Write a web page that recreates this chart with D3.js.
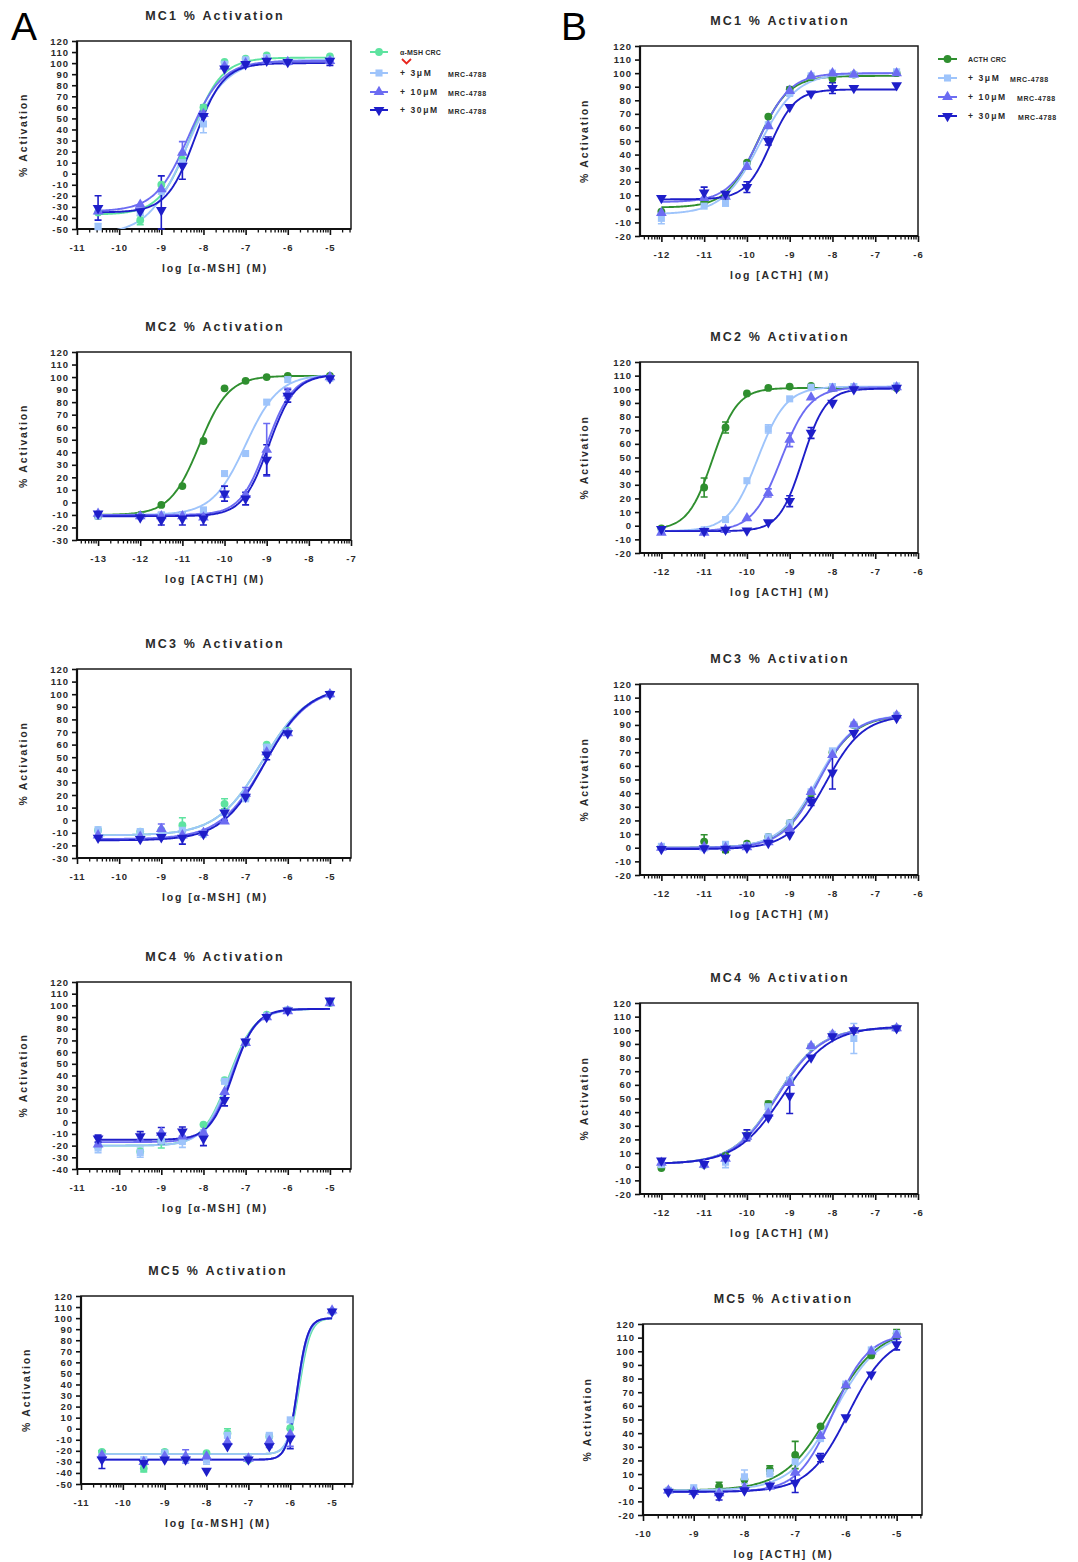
<!DOCTYPE html>
<html><head><meta charset="utf-8">
<script src="https://cdn.jsdelivr.net/npm/d3@7"></script>
<style>body{margin:0;background:#fff} svg{display:block}</style>
</head><body>
<svg id="c" width="1078" height="1562"></svg>
<script>
// ---------- DATA ----------
const titles = ['MC1 % Activation','MC2 % Activation','MC3 % Activation','MC4 % Activation','MC5 % Activation'];
const xLabelMSH = 'log [\u03B1-MSH] (M)';
const xLabelACTH = 'log [ACTH] (M)';
const legendA = ['\u03B1-MSH CRC', '+ 3\u03BCM', '+ 10\u03BCM', '+ 30\u03BCM'];
const legendB = ['ACTH CRC', '+ 3\u03BCM', '+ 10\u03BCM', '+ 30\u03BCM'];
const legendSuffix = 'MRC-4788';

// log concentrations
const xMshA = [-10.5,-9.5,-9,-8.5,-8,-7.5,-7,-6.5,-6,-5];
const xActhA2 = [-13,-12,-11.5,-11,-10.5,-10,-9.5,-9,-8.5,-7.5];
const xActhB = [-12,-11,-10.5,-10,-9.5,-9,-8.5,-8,-7.5,-6.5];
const xActhB5 = [-9.5,-9,-8.5,-8,-7.5,-7,-6.5,-6,-5.5,-5];

// A MC1
const a1Crc  = [-35,-42,-10,13,60,101,104,107,102,106];
const a1M3   = [-48,-35,-16,10,45,99,103,105,101,103];
const a1M10  = [-34,-28,-14,19,54,97,100,102,101,102];
const a1M30  = [-31,-34,-33,7,52,95,99,102,101,102];
const a1Fit  = [[-37,105,-8.3,1.2],[-55,103,-8.4,0.95],[-34,102,-8.35,1.1],[-35,100,-8.2,1.3]];
const a1Err  = [[3,0,11],[3,2,31],[3,3,12],[1,4,8],[2,3,10],[0,1,4],[1,0,3],[3,9,4],[2,4,8]];
// A MC2
const a2Crc  = [-11,-10,-2,13,49,91,97,100,101,101];
const a2M3   = [-11,-11,-10,-10,-6,23,39,80,98,99];
const a2M10  = [-9,-11,-11,-11,-12,6,6,42,87,100];
const a2M30  = [-9,-12,-14,-13,-13,7,3,34,85,99];
const a2Fit  = [[-10,101,-10.6,1.25],[-10,102,-9.5,1.1],[-10,102,-9.0,1.4],[-11,102,-8.95,1.4]];
const a2Err  = [[2,7,21],[3,7,12],[3,5,6],[3,6,5],[3,3,5],[3,4,5],[3,2,4],[3,8,5],[2,8,4],[2,2,3]];
// A MC3
const a3Crc  = [-8,-9,-8,-4,-11,13,18,60,71,100];
const a3M3   = [-7.5,-9,-10,-8,-11,6,17,58,70,100];
const a3M10  = [-12,-13,-7,-12,-10,-1,21,54,69,100];
const a3M30  = [-14,-15,-13.5,-14,-11,6,18.5,52,69,100];
const a3Fit  = [[-12,106,-6.6,0.8],[-12,106,-6.6,0.8],[-15,106,-6.55,0.82],[-16,106,-6.55,0.85]];
const a3Err  = [[0,3,6],[0,5,4],[2,2,4],[3,3,5],[3,7,4],[3,5,6],[2,6,5]];
// A MC4
const a4Crc  = [-21,-25,-16,-15,-2,36,68,92,96,102];
const a4M3   = [-22,-26,-16,-16.5,-9,35,69,91,96,102.5];
const a4M10  = [-19,-15,-9,-12,-9,26,68,90,95,102];
const a4M30  = [-14,-12,-11.5,-8,-14,19,69,90,95.5,104];
const a4Fit  = [[-20,97,-7.4,1.4],[-20,97,-7.38,1.4],[-17,97,-7.33,1.5],[-15,97,-7.3,1.6]];
const a4Err  = [[3,2,7],[0,2,6],[1,0,4],[1,1,4],[3,4,6],[3,3,4],[1,3,5],[3,5,5],[3,0,3],[3,1,4]];
// A MC5
const a5Crc  = [-21,-36,-21,-27,-22,-4,-28,-7,0.5,106];
const a5M3   = [-25,-28,-22,-28,-28,-6,-27,-6,8,106];
const a5M10  = [-24,-30,-25,-25,-25,-12,-27,-11,-5,107];
const a5M30  = [-28,-31,-28,-28,-38,-16,-28,-16,-9,106];
const a5Fit  = [[-23,100,-5.78,3.3],[-23,100,-5.8,3.4],[-28,100,-5.83,3.5],[-28,100,-5.83,3.5]];
const a5Err  = [[3,0,8],[1,2,3],[2,3,6],[1,4,4],[0,5,4],[2,7,6],[3,8,9],[2,8,11],[0,1,3]];
// B MC1
const b1Crc  = [-2,5,9,34,68,88,97,96,99,100];
const b1M3   = [-7,2,4,32,62,85,98,100,99,101];
const b1M10  = [-3,8,9,31,61,87,98,100,99,100];
const b1M30  = [8,12,11,16,50,75,85,89,89,91];
const b1Fit  = [[1,98,-9.75,1.2],[-4,100,-9.7,1.0],[5,100,-9.7,1.2],[7,88,-9.45,1.5]];
const b1Err  = [[3,7,4],[3,1,4],[3,4,3],[3,3,4],[1,0,4],[2,5,3]];
// B MC2
const b2Crc  = [-2,28,72,97,101,102,102.5,101,101,101];
const b2M3   = [-4,-3,4.5,33,71,93,101.5,102,102,102.5];
const b2M10  = [-5,-5,-3,5.5,24,63,94,100.5,101,101.5];
const b2M30  = [-2.5,-4,-3,-3.5,2.5,18,68,90,100,101];
const b2Fit  = [[-3,101,-10.8,1.5],[-4,102,-9.75,1.3],[-4,101.5,-9.2,1.3],[-4,100.5,-8.7,1.6]];
const b2Err  = [[0,1,7],[0,2,4],[2,5,5],[2,4,3],[3,5,4],[3,6,4],[1,4,3]];
// B MC3
const b3Crc  = [0.5,4.5,-1.5,3,8,18,40,70,90,97];
const b3M3   = [1,-0.2,2.5,1.5,8,18,41,71,90,97];
const b3M10  = [0,0.5,0,0.5,4,14,41,68,90.5,97];
const b3M30  = [-1,-0.5,-0.8,0,3.5,9.5,34,55,84,95];
const b3Fit  = [[0,97,-8.35,1.0],[0,97.5,-8.37,1.0],[0,97,-8.33,1.05],[-1,97,-8.15,1.0]];
const b3Err  = [[0,1,5],[3,7,12],[0,2,2],[3,6,3]];
// B MC4
const b4Crc  = [-1,1.5,8,23,46,62,88,97,100,101.5];
const b4M3   = [1.5,1.5,3.3,22,44,63.5,88,97,94,101.5];
const b4M10  = [3,1.5,6,22,39,61.5,88.5,97,100,101.5];
const b4M30  = [4.5,2,6.5,23,36,52,80,95.5,100,101.5];
const b4Fit  = [[2,102,-9.3,0.85],[2,102,-9.3,0.85],[2,102,-9.28,0.85],[2,103,-9.15,0.8]];
const b4Err  = [[3,5,13],[1,8,11],[1,2,4],[2,4,3],[0,4,2],[3,3,4]];
// B MC5
const b5Crc  = [-2,-1.5,1,6,13,24,45,75,97,113];
const b5M3   = [-2,0,-3,8,11,19,36,76,101,113];
const b5M10  = [-2,-3,-4,0,1,11,38,75,100,112];
const b5M30  = [-3,-4,-6,-2,1.5,3.5,22,51.5,83,105];
const b5Fit  = [[-2,117,-6.28,0.93],[-2,115,-6.22,1.0],[-3,113,-6.25,1.25],[-3,112,-5.95,1.1]];
const b5Err  = [[0,5,10],[1,3,5],[3,5,7],[0,2,3],[3,2,3],[1,4,3],[0,4,3],[3,9,4],[0,9,3],[3,6,3]];

// ---------- STYLE / LAYOUT ----------
const FONT = "'Liberation Sans', Arial, sans-serif";
const mint = '#5ee3a0', darkGreen = '#2f8f2f';
const blues = ['#9ec4fb', '#6c6cf2', '#1e1ec9'];
const TXT = '#2a2a2a';

const panels = [
  {id:'a1', title:titles[0], xlab:xLabelMSH,  box:[77,41,351,229],   xd:[-11,-4.5], yd:[-50,120], xs:xMshA,   vals:[a1Crc,a1M3,a1M10,a1M30], fits:a1Fit, errs:a1Err, green:mint, ylx:23},
  {id:'a2', title:titles[1], xlab:xLabelACTH, box:[77,352,351,540],  xd:[-13.5,-7], yd:[-30,120], xs:xActhA2, vals:[a2Crc,a2M3,a2M10,a2M30], fits:a2Fit, errs:a2Err, green:darkGreen, ylx:23},
  {id:'a3', title:titles[2], xlab:xLabelMSH,  box:[77,669,351,858],  xd:[-11,-4.5], yd:[-30,120], xs:xMshA,   vals:[a3Crc,a3M3,a3M10,a3M30], fits:a3Fit, errs:a3Err, green:mint, ylx:23},
  {id:'a4', title:titles[3], xlab:xLabelMSH,  box:[77,982,351,1169], xd:[-11,-4.5], yd:[-40,120], xs:xMshA,   vals:[a4Crc,a4M3,a4M10,a4M30], fits:a4Fit, errs:a4Err, green:mint, ylx:23},
  {id:'a5', title:titles[4], xlab:xLabelMSH,  box:[81,1296,353,1484],xd:[-11,-4.5], yd:[-50,120], xs:xMshA,   vals:[a5Crc,a5M3,a5M10,a5M30], fits:a5Fit, errs:a5Err, green:mint, ylx:26},
  {id:'b1', title:titles[0], xlab:xLabelACTH, box:[640,46,918,236],  xd:[-12.5,-6], yd:[-20,120], xs:xActhB,  vals:[b1Crc,b1M3,b1M10,b1M30], fits:b1Fit, errs:b1Err, green:darkGreen, ylx:584},
  {id:'b2', title:titles[1], xlab:xLabelACTH, box:[640,362,918,553], xd:[-12.5,-6], yd:[-20,120], xs:xActhB,  vals:[b2Crc,b2M3,b2M10,b2M30], fits:b2Fit, errs:b2Err, green:darkGreen, ylx:584},
  {id:'b3', title:titles[2], xlab:xLabelACTH, box:[640,684,918,875], xd:[-12.5,-6], yd:[-20,120], xs:xActhB,  vals:[b3Crc,b3M3,b3M10,b3M30], fits:b3Fit, errs:b3Err, green:darkGreen, ylx:584},
  {id:'b4', title:titles[3], xlab:xLabelACTH, box:[640,1003,918,1194],xd:[-12.5,-6],yd:[-20,120], xs:xActhB,  vals:[b4Crc,b4M3,b4M10,b4M30], fits:b4Fit, errs:b4Err, green:darkGreen, ylx:584},
  {id:'b5', title:titles[4], xlab:xLabelACTH, box:[643,1324,922,1515],xd:[-10,-4.5], yd:[-20,120], xs:xActhB5, vals:[b5Crc,b5M3,b5M10,b5M30], fits:b5Fit, errs:b5Err, green:darkGreen, ylx:587},
];

const svg = d3.select('#c');
const defs = svg.append('defs');

const symTypes = [d3.symbolCircle, d3.symbolSquare, d3.symbolTriangle, d3.symbolTriangle];
const symSizes = [48, 50, 50, 50];
function marker(g, i, cx, cy, color) {
  g.append('path')
    .attr('d', d3.symbol().type(symTypes[i]).size(symSizes[i])())
    .attr('transform', `translate(${cx},${cy})` + (i === 3 ? ' rotate(180)' : ''))
    .attr('fill', color);
}
function logistic(f, xv) {
  const [bot, top, ec, h] = f;
  return bot + (top - bot) / (1 + Math.pow(10, (ec - xv) * h));
}

panels.forEach(p => {
  const [L, T, R, B] = p.box;
  const x = d3.scaleLinear().domain(p.xd).range([L, R]);
  const y = d3.scaleLinear().domain(p.yd).range([B, T]);
  const colors = [p.green, ...blues];
  const g = svg.append('g');

  defs.append('clipPath').attr('id', 'clip-' + p.id)
    .append('rect').attr('x', L).attr('y', T).attr('width', R - L).attr('height', B - T);

  // title
  g.append('text').attr('x', (L + R) / 2 + 1).attr('y', T - 21.5)
    .attr('text-anchor', 'middle').attr('font-family', FONT).attr('font-size', 12.5)
    .attr('font-weight', 'bold').attr('letter-spacing', 2.2).attr('fill', TXT).text(p.title);
  // x label
  g.append('text').attr('x', (L + R) / 2 + 1).attr('y', B + 43)
    .attr('text-anchor', 'middle').attr('font-family', FONT).attr('font-size', 10.5)
    .attr('font-weight', 'bold').attr('letter-spacing', 1.9).attr('fill', TXT).text(p.xlab);
  // y label
  g.append('text').attr('transform', `translate(${p.ylx + 4},${(T + B) / 2}) rotate(-90)`)
    .attr('text-anchor', 'middle').attr('font-family', FONT).attr('font-size', 10.5)
    .attr('font-weight', 'bold').attr('letter-spacing', 1.8).attr('fill', TXT).text('% Activation');

  // y axis
  const yTicks = d3.range(p.yd[0], p.yd[1] + 0.1, 10);
  const ya = g.append('g').attr('transform', `translate(${L},0)`)
    .call(d3.axisLeft(y).tickValues(yTicks).tickSize(5).tickPadding(3).tickSizeOuter(0).tickFormat(d => String(d)));
  ya.select('.domain').remove();
  ya.selectAll('line').attr('stroke', '#111').attr('stroke-width', 1.6);
  ya.selectAll('text').attr('font-family', FONT).attr('font-size', 9.5).attr('font-weight', 'bold')
    .attr('letter-spacing', 1).attr('fill', TXT);

  // x axis major
  const xMaj = d3.range(Math.ceil(p.xd[0]), Math.floor(p.xd[1]) + 0.1, 1);
  const xa = g.append('g').attr('transform', `translate(0,${B})`)
    .call(d3.axisBottom(x).tickValues(xMaj).tickSize(6).tickPadding(9).tickSizeOuter(0).tickFormat(d => String(d)));
  xa.select('.domain').remove();
  xa.selectAll('line').attr('stroke', '#111').attr('stroke-width', 1.6);
  xa.selectAll('text').attr('font-family', FONT).attr('font-size', 9.5).attr('font-weight', 'bold')
    .attr('letter-spacing', 1).attr('fill', TXT);
  // minor log ticks
  const minors = [];
  for (let k = Math.floor(p.xd[0]); k < p.xd[1]; k++) {
    for (let m = 2; m <= 9; m++) {
      const v = k + Math.log10(m);
      if (v > p.xd[0] && v < p.xd[1]) minors.push(v);
    }
  }
  g.append('g').selectAll('line').data(minors).join('line')
    .attr('x1', d => x(d)).attr('x2', d => x(d)).attr('y1', B).attr('y2', B + 3.5)
    .attr('stroke', '#111').attr('stroke-width', 1.3);

  // frame
  g.append('rect').attr('x', L).attr('y', T).attr('width', R - L).attr('height', B - T)
    .attr('fill', 'none').attr('stroke', '#1a1a1a').attr('stroke-width', 1.5);
  g.append('path').attr('d', `M${L},${T}V${B}H${R}`).attr('fill', 'none')
    .attr('stroke', '#111').attr('stroke-width', 2.2);

  // curves
  const cg = g.append('g').attr('clip-path', `url(#clip-${p.id})`);
  const x0 = p.xs[0], x1 = p.xs[p.xs.length - 1];
  const samples = d3.range(0, 201).map(i => x0 + (x1 - x0) * i / 200);
  const line = d3.line().x(d => x(d[0])).y(d => y(d[1]));
  p.fits.forEach((f, si) => {
    cg.append('path').attr('d', line(samples.map(s => [s, logistic(f, s)])))
      .attr('fill', 'none').attr('stroke', colors[si]).attr('stroke-width', 1.9);
  });

  // error bars
  const eg = g.append('g');
  p.errs.forEach(([si, pi, e]) => {
    const cx = x(p.xs[pi]), v = p.vals[si][pi];
    const ylo = y(Math.max(v - e, p.yd[0])), yhi = y(v + e);
    eg.append('path').attr('d', `M${cx},${ylo}V${yhi}M${cx - 3.5},${ylo}H${cx + 3.5}M${cx - 3.5},${yhi}H${cx + 3.5}`)
      .attr('fill', 'none').attr('stroke', colors[si]).attr('stroke-width', 1.6);
  });

  // markers
  const mg = g.append('g');
  p.vals.forEach((vals, si) => {
    vals.forEach((v, pi) => {
      if (v < p.yd[0] || v > p.yd[1]) return;
      marker(mg, si, x(p.xs[pi]), y(v), colors[si]);
    });
  });
});

// ---------- LEGENDS ----------
function legend(labels, lx0, lx1, textX, suffixXs, ys, green) {
  const colors = [green, ...blues];
  const g = svg.append('g');
  labels.forEach((lab, i) => {
    g.append('line').attr('x1', lx0).attr('x2', lx1).attr('y1', ys[i]).attr('y2', ys[i])
      .attr('stroke', colors[i]).attr('stroke-width', 2);
    marker(g, i, (lx0 + lx1) / 2, ys[i], colors[i]);
    if (i === 0) {
      g.append('text').attr('x', textX).attr('y', ys[i] + 2.5).attr('font-family', FONT)
        .attr('font-size', 7).attr('font-weight', 'bold').attr('letter-spacing', 0.2)
        .attr('fill', TXT).text(lab);
    } else {
      g.append('text').attr('x', textX).attr('y', ys[i] + 3).attr('font-family', FONT)
        .attr('font-size', 8.5).attr('font-weight', 'bold').attr('letter-spacing', 1.6)
        .attr('fill', TXT).text(lab);
      g.append('text').attr('x', suffixXs[i - 1]).attr('y', ys[i] + 3.5).attr('font-family', FONT)
        .attr('font-size', 7).attr('font-weight', 'bold').attr('letter-spacing', 0.6)
        .attr('fill', TXT).text(legendSuffix);
    }
  });
  return g;
}
legend(legendA, 370, 388, 400, [448, 448, 448], [52, 73, 92, 110], mint);
legend(legendB, 938, 957, 968, [1010, 1017, 1018], [59, 78, 97, 116], darkGreen);
// red check mark under the α-MSH CRC label
svg.append('path').attr('d', 'M402,59 L406.5,63.5 L411,59').attr('fill', 'none')
  .attr('stroke', '#e8241c').attr('stroke-width', 1.8);

// panel letters
svg.append('text').attr('x', 11).attr('y', 40).attr('font-family', FONT).attr('font-size', 39)
  .attr('fill', '#000').text('A');
svg.append('text').attr('x', 561).attr('y', 40).attr('font-family', FONT).attr('font-size', 39)
  .attr('fill', '#000').text('B');
</script>
</body></html>
